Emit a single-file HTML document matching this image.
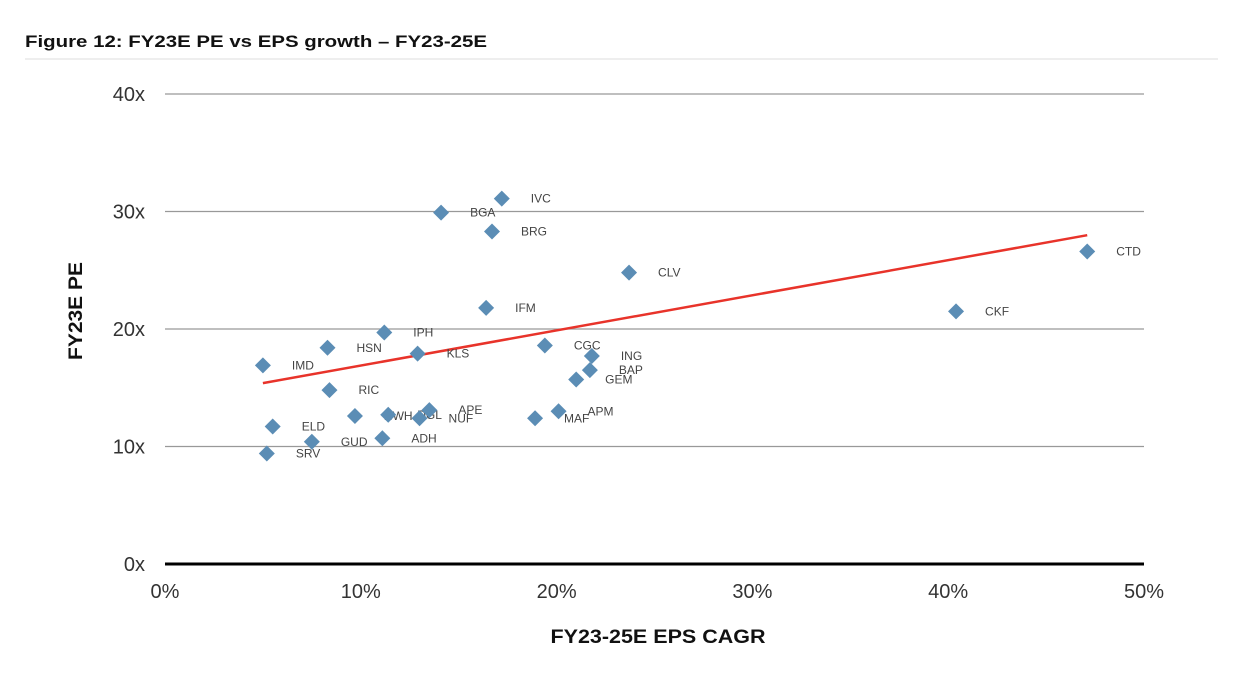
<!DOCTYPE html>
<html><head><meta charset="utf-8"><style>
body{margin:0;background:#fff;width:1246px;height:678px;overflow:hidden;font-family:"Liberation Sans",sans-serif}
</style></head><body>
<svg width="1246" height="678" xmlns="http://www.w3.org/2000/svg">
<text x="25" y="47" font-size="17" font-weight="bold" fill="#111" textLength="462" lengthAdjust="spacingAndGlyphs">Figure 12: FY23E PE vs EPS growth – FY23-25E</text>
<line x1="25" y1="59" x2="1218" y2="59" stroke="#ddd" stroke-width="1"/>
<g id="grid"></g><g id="ticks"></g><g id="marks"></g>
<text transform="translate(82,311) rotate(-90)" text-anchor="middle" font-size="19" font-weight="bold" fill="#111" textLength="98" lengthAdjust="spacingAndGlyphs">FY23E PE</text>
<text x="658" y="643" text-anchor="middle" font-size="19" font-weight="bold" fill="#111" textLength="215" lengthAdjust="spacingAndGlyphs">FY23-25E EPS CAGR</text>
</svg>
<script>
const names=["IMD","HSN","IPH","KLS","RIC","ELD","GUD","SRV","ADH","NWH","DGL","NUF","APE","BGA","IVC","BRG","IFM","CLV","CGC","ING","BAP","GEM","MAF","APM","CKF","CTD"];
const growth=[5.0,8.3,11.2,12.9,8.4,5.5,7.5,5.2,11.1,9.7,11.4,13.0,13.5,14.1,17.2,16.7,16.4,23.7,19.4,21.8,21.7,21.0,18.9,20.1,40.4,47.1];
const pe=[16.9,18.4,19.7,17.9,14.8,11.7,10.4,9.4,10.7,12.6,12.7,12.4,13.1,29.9,31.1,28.3,21.8,24.8,18.6,17.7,16.5,15.7,12.4,13.0,21.5,26.6];
const xTicks=[0,10,20,30,40,50];
const yTicks=[0,10,20,30,40];
const trend=[13.9,0.299];
const trendRange=[5,47.1];
const NS="http://www.w3.org/2000/svg";
const X=v=>165+v*19.58, Y=v=>564-v*11.75;
function mk(t,a,p){const e=document.createElementNS(NS,t);for(const k in a)e.setAttribute(k,a[k]);p.appendChild(e);return e;}
const grid=document.getElementById('grid'),ticks=document.getElementById('ticks'),marks=document.getElementById('marks');
yTicks.forEach(v=>{
 const l=mk('line',{x1:165,x2:1144,y1:Y(v),y2:Y(v),stroke:v===0?'#000':'#999','stroke-width':v===0?3:1.2},grid);
 
 
 const t=mk('text',{x:145,y:Y(v)+7,'text-anchor':'end','font-size':20,fill:'#333'},ticks);t.textContent=v+'x';
 
 
});
xTicks.forEach(v=>{
 const t=mk('text',{x:X(v),y:598,'text-anchor':'middle','font-size':20,fill:'#333'},ticks);t.textContent=v+'%';
 
 
});
const tl=mk('line',{x1:X(trendRange[0]),y1:Y(trend[0]+trend[1]*trendRange[0]),x2:X(trendRange[1]),y2:Y(trend[0]+trend[1]*trendRange[1]),stroke:'#e8332a','stroke-width':2.5},marks);


names.forEach((n,i)=>{
 const cx=X(growth[i]),cy=Y(pe[i]);
 const d=mk('polygon',{points:`${cx},${cy-8} ${cx+8},${cy} ${cx},${cy+8} ${cx-8},${cy}`,fill:'#5b8db5'},marks);
 
 
 const t=mk('text',{x:cx+29,y:cy+4,'font-size':12,fill:'#444'},marks);t.textContent=n;
 
 
});
</script>
</body></html>
